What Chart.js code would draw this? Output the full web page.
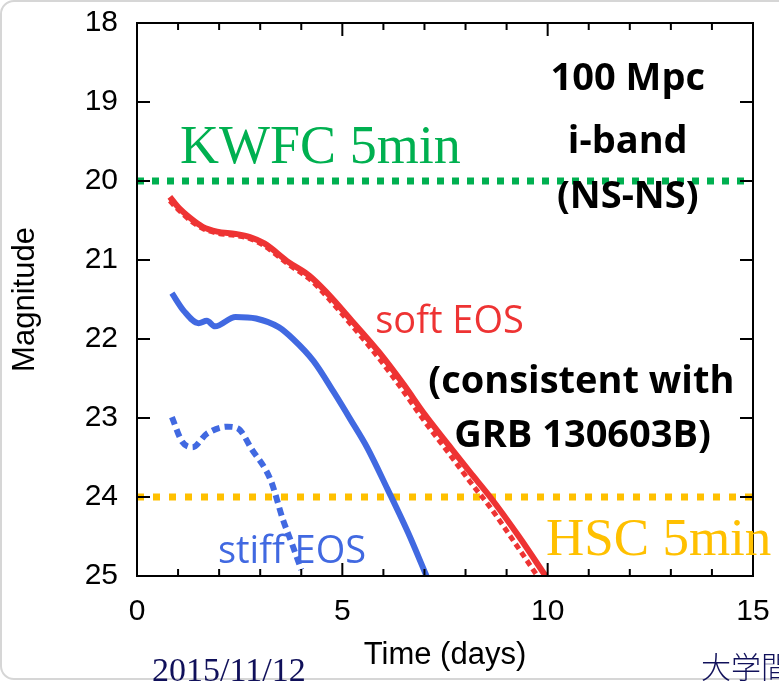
<!DOCTYPE html>
<html>
<head>
<meta charset="utf-8">
<title>Kilonova light curves</title>
<script src="https://cdn.jsdelivr.net/npm/chart.js@4.4.0/dist/chart.umd.min.js"></script>
<style>
  html, body { margin: 0; padding: 0; background: #fff; }
  #wrap { position: relative; width: 779px; height: 681px; overflow: hidden; }
  #frame { position: absolute; left: 0; top: 0; width: 830px; height: 680px; box-sizing: border-box;
           border: 2px solid #d6d6d6; border-radius: 14px; }
  #myChart { position: absolute; left: 0; top: 0; }
  .slide { position: absolute; color: #10105a; line-height: 1; white-space: nowrap; }
  #date { left: 152px; top: 651px; font: 34px "Liberation Serif", serif; }
  #univ { left: 701px; top: 643px; font: 30px "Noto Sans CJK JP", sans-serif; font-weight: 300; }
</style>
</head>
<body>
<div id="wrap">
  <div id="frame"></div>
  <canvas id="myChart" width="779" height="681"></canvas>
  <div class="slide" id="date">2015/11/12</div>
  <div class="slide" id="univ">大学間</div>
</div>
<script>
// light curve data (time in days, i-band magnitude)
const softSolidT   = [0.8, 1.0, 1.3, 1.6, 1.95, 2.4, 2.75, 3.1, 3.7, 4.2, 4.6, 5.25, 5.9, 6.5, 7.0, 7.6, 8.1, 8.6, 9.3, 9.95];
const softSolidMag = [20.2, 20.33, 20.47, 20.58, 20.64, 20.67, 20.71, 20.79, 21.03, 21.2, 21.4, 21.78, 22.17, 22.58, 22.95, 23.35, 23.68, 24.0, 24.5, 25.0];

const softDotT     = [0.8, 1.0, 1.3, 1.6, 1.95, 2.4, 2.75, 3.1, 3.7, 4.2, 4.6, 5.25, 5.9, 6.5, 7.0, 7.6, 8.1, 8.6, 9.2, 9.75];
const softDotMag   = [20.25, 20.36, 20.5, 20.6, 20.66, 20.69, 20.73, 20.82, 21.06, 21.24, 21.45, 21.84, 22.25, 22.67, 23.04, 23.45, 23.8, 24.13, 24.58, 25.0];

const stiffSolidT   = [0.85, 1.15, 1.5, 1.7, 1.9, 2.4, 2.9, 3.45, 3.8, 4.3, 4.8, 5.2, 5.6, 6.1, 6.6, 7.05];
const stiffSolidMag = [21.42, 21.65, 21.8, 21.77, 21.84, 21.72, 21.74, 21.85, 22.0, 22.28, 22.68, 23.02, 23.37, 23.9, 24.45, 25.0];

const stiffDotT     = [0.85, 1.1, 1.35, 1.7, 2.2, 2.45, 2.8, 3.25, 3.55, 3.8, 4.0];
const stiffDotMag   = [22.99, 23.3, 23.37, 23.2, 23.11, 23.13, 23.4, 23.78, 24.28, 24.63, 24.92];

// 5 min detection limits
const limitT   = [0, 15];
const kwfcMag  = [20, 20];
const hscMag   = [24, 24];

const xTicks = [0, 5, 10, 15];
const yTicks = [18, 19, 20, 21, 22, 23, 24, 25];

// text labels placed in data units
const notes = [
  { text: 'KWFC 5min', t: 1.05, mag: 19.77, align: 'left', color: '#00b050', font: '54px "Liberation Serif"' },
  { text: 'HSC 5min', t: 9.96, mag: 24.73, align: 'left', color: '#ffc000', font: '53px "Liberation Serif"' },
  { text: '100 Mpc', t: 11.95, mag: 18.85, align: 'center', color: '#000', font: 'bold 38px "Open Sans"' },
  { text: 'i-band', t: 11.95, mag: 19.65, align: 'center', color: '#000', font: 'bold 38px "Open Sans"' },
  { text: '(NS-NS)', t: 11.95, mag: 20.34, align: 'center', color: '#000', font: 'bold 38px "Open Sans"' },
  { text: 'soft EOS', t: 5.8, mag: 21.92, align: 'left', color: '#ee3333', font: '38px "Open Sans"' },
  { text: '(consistent with', t: 10.82, mag: 22.68, align: 'center', color: '#000', font: 'bold 38px "Open Sans"' },
  { text: 'GRB 130603B)', t: 10.85, mag: 23.37, align: 'center', color: '#000', font: 'bold 38px "Open Sans"' },
  { text: 'stiff EOS', t: 1.97, mag: 24.84, align: 'left', color: '#4169e1', font: '38px "Open Sans"' }
];

const zip = (ts, ms) => ts.map((t, i) => ({ x: t, y: ms[i] }));

// inner ticks, frame box and the text labels
const frameAndNotes = {
  id: 'frameAndNotes',
  afterDatasetsDraw(chart) {
    const { ctx, chartArea: a, scales: { x, y } } = chart;
    ctx.save();
    ctx.strokeStyle = '#000';
    ctx.lineWidth = 2;
    ctx.beginPath();
    for (let t = 0; t <= 15; t++) {
      const px = x.getPixelForValue(t);
      const len = t % 5 === 0 ? 13 : 7;
      ctx.moveTo(px, a.bottom); ctx.lineTo(px, a.bottom - len);
      ctx.moveTo(px, a.top); ctx.lineTo(px, a.top + len);
    }
    yTicks.forEach(m => {
      const py = y.getPixelForValue(m);
      ctx.moveTo(a.left, py); ctx.lineTo(a.left + 13, py);
      ctx.moveTo(a.right, py); ctx.lineTo(a.right - 13, py);
    });
    ctx.stroke();
    ctx.strokeRect(a.left, a.top, a.right - a.left, a.bottom - a.top);

    ctx.textBaseline = 'alphabetic';
    notes.forEach(n => {
      ctx.font = n.font;
      ctx.fillStyle = n.color;
      ctx.textAlign = n.align;
      ctx.fillText(n.text, x.getPixelForValue(n.t), y.getPixelForValue(n.mag));
    });
    ctx.restore();
  }
};

// fixed axis boxes so the plot frame sits where it does in the figure
function fixX(s) {
  s.height = 105;
  s.paddingLeft = 0; s.paddingRight = 0; s.paddingTop = 0; s.paddingBottom = 0;
}
function fixY(s) {
  s.width = 137;
  s.paddingLeft = 0; s.paddingRight = 0; s.paddingTop = 0; s.paddingBottom = 0;
}

const ctx = document.getElementById('myChart').getContext('2d');
const myChart = new Chart(ctx, {
  type: 'line',
  data: {
    datasets: [{
      label: 'soft EOS',
      data: zip(softSolidT, softSolidMag),
      borderColor: '#ee3333',
      borderWidth: 6
    }, {
      label: 'soft EOS (dotted)',
      data: zip(softDotT, softDotMag),
      borderColor: '#ee3333',
      borderWidth: 5,
      borderDash: [6, 4]
    }, {
      label: 'stiff EOS',
      data: zip(stiffSolidT, stiffSolidMag),
      borderColor: '#4169e1',
      borderWidth: 6
    }, {
      label: 'stiff EOS (dotted)',
      data: zip(stiffDotT, stiffDotMag),
      borderColor: '#4169e1',
      borderWidth: 6,
      borderDash: [8, 5]
    }, {
      label: 'KWFC 5min',
      data: zip(limitT, kwfcMag),
      borderColor: '#00b050',
      borderWidth: 7,
      borderDash: [7, 8],
      cubicInterpolationMode: 'default'
    }, {
      label: 'HSC 5min',
      data: zip(limitT, hscMag),
      borderColor: '#ffc000',
      borderWidth: 7,
      borderDash: [7, 9],
      cubicInterpolationMode: 'default'
    }]
  },
  options: {
    responsive: false,
    animation: false,
    layout: { padding: { left: 0, top: 23, right: 26, bottom: 0 } },
    elements: {
      point: { radius: 0 },
      line: { cubicInterpolationMode: 'monotone', fill: false, borderCapStyle: 'butt' }
    },
    plugins: {
      legend: { display: false },
      tooltip: { enabled: false }
    },
    scales: {
      x: {
        type: 'linear',
        min: 0,
        max: 15,
        afterBuildTicks: s => { s.ticks = xTicks.map(v => ({ value: v })); },
        afterFit: fixX,
        grid: { display: false, drawTicks: false },
        border: { display: false },
        ticks: { color: '#000', padding: 18, font: { family: 'Liberation Sans', size: 30 } },
        title: {
          display: true,
          text: 'Time (days)',
          color: '#000',
          padding: { top: 0, bottom: 7 },
          font: { family: 'Liberation Sans', size: 31 }
        }
      },
      y: {
        type: 'linear',
        reverse: true,
        min: 18,
        max: 25,
        afterBuildTicks: s => { s.ticks = yTicks.map(v => ({ value: v })); },
        afterFit: fixY,
        grid: { display: false, drawTicks: false },
        border: { display: false },
        ticks: { color: '#000', padding: 19, font: { family: 'Liberation Sans', size: 30 } },
        title: {
          display: true,
          text: 'Magnitude',
          color: '#000',
          padding: { top: 7, bottom: 0 },
          font: { family: 'Liberation Sans', size: 31 }
        }
      }
    }
  },
  plugins: [frameAndNotes]
});
</script>
</body>
</html>
